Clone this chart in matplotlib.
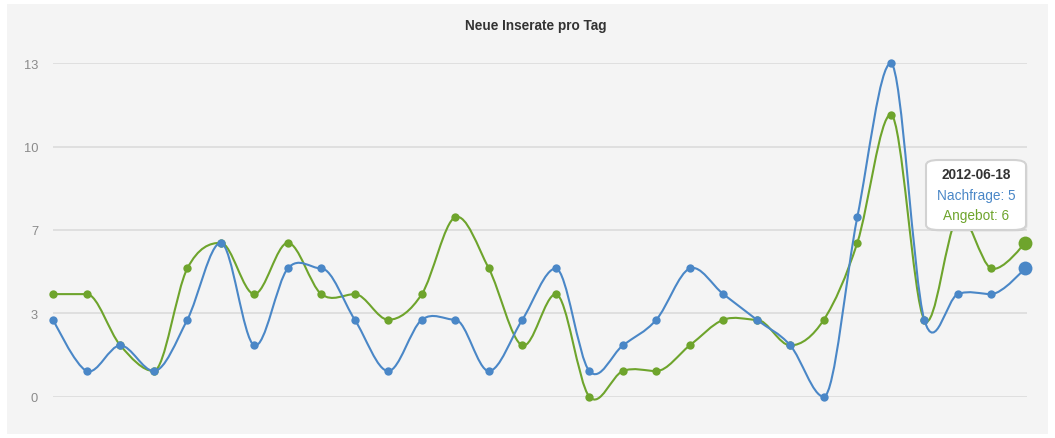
import matplotlib
matplotlib.use("Agg")
import matplotlib.pyplot as plt
from matplotlib.path import Path
from matplotlib.patches import PathPatch, FancyBboxPatch, Rectangle
import numpy as np

plt.rcParams['font.family'] = ['Liberation Sans', 'DejaVu Sans']

title = "Neue Inserate pro Tag"
nachfrage = [3, 1, 2, 1, 3, 6, 2, 5, 5, 3, 1, 3, 3, 1, 3, 5, 1, 2, 3, 5, 4, 3, 2, 0, 7, 13, 3, 4, 4, 5]
angebot = [4, 4, 2, 1, 5, 6, 4, 6, 4, 4, 3, 4, 7, 5, 2, 4, 0, 1, 1, 2, 3, 3, 2, 3, 6, 11, 3, 7, 5, 6]
ytick_values = [0, 3.25, 6.5, 9.75, 13]
ytick_labels = ["0", "3", "7", "10", "13"]
tooltip_date = "2012-06-18"
series_names = ["Nachfrage", "Angebot"]

BLUE = '#4a87c7'
GREEN = '#6ea42c'

W, H = 1055, 439
fig = plt.figure(figsize=(W / 100, H / 100), dpi=100)
fig.patch.set_facecolor('white')
fig.patches.append(Rectangle((7 / W, 4 / H), (1048 - 7) / W, (435 - 5) / H,
                             transform=fig.transFigure, facecolor='#f4f4f4',
                             edgecolor='none', zorder=-5))

x0, x1 = 53.3, 1027.0
y0, y1 = 397.7, 64.3
ax = fig.add_axes([x0 / W, (H - y0) / H, (x1 - x0) / W, (y0 - y1) / H])
ax.set_facecolor('none')
step = 33.5
ax.set_xlim(0, (x1 - x0) / step)
ax.set_ylim(0, 13)
for s in ax.spines.values():
    s.set_visible(False)
ax.set_xticks([])
ax.set_yticks(ytick_values)
ax.set_yticklabels(ytick_labels, color='#8a8a8a', fontsize=9.3)
ax.tick_params(axis='y', length=0, pad=11)
for v in ytick_values:
    ax.axhline(v, color='#d9d9d9', lw=1.1, zorder=1)


def spline_path(xs, ys, smoothing=2.0):
    n = len(xs)
    lc = [None] * n
    rc = [None] * n
    for i in range(1, n - 1):
        px, py = xs[i], ys[i]
        lx, ly = xs[i - 1], ys[i - 1]
        nx, ny = xs[i + 1], ys[i + 1]
        d = smoothing + 1
        lcx = (smoothing * px + lx) / d
        lcy = (smoothing * py + ly) / d
        rcx = (smoothing * px + nx) / d
        rcy = (smoothing * py + ny) / d
        corr = 0
        if rcx != lcx:
            corr = (rcy - lcy) * (rcx - px) / (rcx - lcx) + py - rcy
        lcy += corr
        rcy += corr
        # old-style extreme prevention (left control point only)
        if lcy > ly and lcy > py:
            lcy = max(ly, py); rcy = 2 * py - lcy
        elif lcy < ly and lcy < py:
            lcy = min(ly, py); rcy = 2 * py - lcy
        lc[i] = (lcx, lcy)
        rc[i] = (rcx, rcy)
    verts = [(xs[0], ys[0])]
    codes = [Path.MOVETO]
    for i in range(1, n):
        c1 = rc[i - 1] if rc[i - 1] is not None else (xs[i - 1], ys[i - 1])
        c2 = lc[i] if lc[i] is not None else (xs[i], ys[i])
        verts += [c1, c2, (xs[i], ys[i])]
        codes += [Path.CURVE4] * 3
    return Path(verts, codes)


xs = list(range(len(nachfrage)))
for data, color, z in [(angebot, GREEN, 3), (nachfrage, BLUE, 4)]:
    p = spline_path(xs, data)
    ax.add_patch(PathPatch(p, facecolor='none', edgecolor=color, lw=1.5,
                           zorder=z, clip_on=False, capstyle='round', joinstyle='round'))
    ax.plot(xs[:-1], data[:-1], 'o', color=color, ms=6, mec='none', zorder=z + 0.5, clip_on=False)
    ax.plot(xs[-1:], data[-1:], 'o', color=color, ms=10, mec='none', zorder=z + 0.5, clip_on=False)

fig.text(536 / W, 1 - 26 / H, title, ha='center', va='center', fontsize=9.8,
         fontweight='bold', color='#333333')

# tooltip
bx, by, bw, bh = 926, 161, 100, 70
fig.patches.append(FancyBboxPatch(((bx + 1.5) / W, 1 - (by + bh + 1.5) / H), bw / W, bh / H,
                                  boxstyle="round,pad=0,rounding_size=0.012",
                                  transform=fig.transFigure, facecolor='#00000012',
                                  edgecolor='none', zorder=9.5))
fig.patches.append(FancyBboxPatch((bx / W, 1 - (by + bh) / H), bw / W, bh / H,
                                  boxstyle="round,pad=0,rounding_size=0.012",
                                  transform=fig.transFigure, facecolor='white',
                                  edgecolor='#d2d2d2', lw=1.5, zorder=10))
cx = 976 / W
fig.text(cx, 1 - 175 / H, tooltip_date, ha='center', va='center', fontsize=9.8,
         fontweight='bold', color='#333333', zorder=11)
fig.text(cx, 1 - 196 / H, f"{series_names[0]}: {nachfrage[-1]}", ha='center', va='center',
         fontsize=9.8, color=BLUE, zorder=11)
fig.text(cx, 1 - 216 / H, f"{series_names[1]}: {angebot[-1]}", ha='center', va='center',
         fontsize=9.8, color=GREEN, zorder=11)

fig.savefig('out.png', dpi=100)
